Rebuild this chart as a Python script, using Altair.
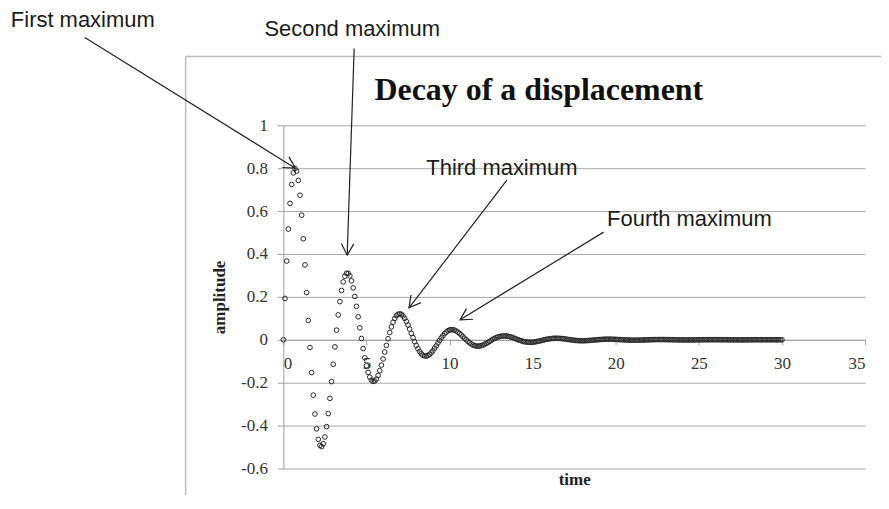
import math
import altair as alt
import pandas as pd

# ---------------- data ----------------
time_step = 0.1  # samples every 0.1 time units, from 0 to 30
amplitude = [
    # t = 0.0 .. 0.9
    0.000, 0.193, 0.367, 0.516, 0.636, 0.724, 0.778, 0.799, 0.786, 0.743,
    # t = 1.0 .. 1.9
    0.674, 0.581, 0.471, 0.349, 0.220, 0.090, -0.036, -0.153, -0.258, -0.346,
    # t = 2.0 .. 2.9
    -0.415, -0.464, -0.492, -0.498, -0.485, -0.453, -0.405, -0.344, -0.273, -0.195,
    # t = 3.0 .. 3.9
    -0.114, -0.033, 0.045, 0.116, 0.178, 0.230, 0.270, 0.296, 0.310, 0.310,
    # t = 4.0 .. 4.9
    0.298, 0.275, 0.242, 0.202, 0.156, 0.107, 0.056, 0.006, -0.041, -0.084,
    # t = 5.0 .. 5.9
    -0.121, -0.152, -0.174, -0.188, -0.194, -0.192, -0.183, -0.166, -0.144, -0.118,
    # t = 6.0 .. 6.9
    -0.089, -0.057, -0.026, 0.005, 0.034, 0.060, 0.082, 0.099, 0.112, 0.119,
    # t = 7.0 .. 7.9
    0.121, 0.119, 0.111, 0.100, 0.086, 0.069, 0.050, 0.030, 0.010, -0.009,
    # t = 8.0 .. 8.9
    -0.026, -0.042, -0.055, -0.065, -0.072, -0.075, -0.076, -0.073, -0.068, -0.060,
    # t = 9.0 .. 9.9
    -0.051, -0.039, -0.028, -0.015, -0.003, 0.009, 0.019, 0.029, 0.036, 0.042,
    # t = 10.0 .. 10.9
    0.046, 0.047, 0.047, 0.045, 0.041, 0.036, 0.030, 0.023, 0.015, 0.007,
    # t = 11.0 .. 11.9
    0.000, -0.007, -0.014, -0.019, -0.024, -0.027, -0.029, -0.030, -0.029, -0.027,
    # t = 12.0 .. 12.9
    -0.025, -0.021, -0.017, -0.013, -0.008, -0.003, 0.002, 0.006, 0.010, 0.013,
    # t = 13.0 .. 13.9
    0.015, 0.017, 0.018, 0.018, 0.018, 0.017, 0.015, 0.013, 0.010, 0.007,
    # t = 14.0 .. 14.9
    0.004, 0.001, -0.002, -0.004, -0.007, -0.009, -0.010, -0.011, -0.011, -0.012,
    # t = 15.0 .. 15.9
    -0.011, -0.010, -0.009, -0.007, -0.006, -0.004, -0.002, 0.000, 0.002, 0.003,
    # t = 16.0 .. 16.9
    0.0045, 0.0056, 0.0065, 0.0069, 0.0072, 0.0071, 0.0067, 0.0061, 0.0053, 0.0043,
    # t = 17.0 .. 17.9
    0.0032, 0.0021, 0.0009, -0.0002, -0.0013, -0.0022, -0.0031, -0.0037, -0.0041, -0.0043,
    # t = 18.0 .. 18.9
    -0.0045, -0.0044, -0.0040, -0.0036, -0.0031, -0.0025, -0.0018, -0.0010, -0.0004, 0.0003,
    # t = 19.0 .. 19.9
    0.0010, 0.0015, 0.0020, 0.0024, 0.0027, 0.0028, 0.0028, 0.0027, 0.0025, 0.0022,
    # t = 20.0 .. 20.9
    0.0019, 0.0014, 0.0010, 0.0005, 0.0001, -0.0003, -0.0007, -0.0011, -0.0013, -0.0016,
    # t = 21.0 .. 21.9
    -0.0017, -0.0017, -0.0017, -0.0016, -0.0015, -0.0013, -0.0010, -0.0008, -0.0005, -0.0002,
    # t = 22.0 .. 22.9
    0.0000, 0.0003, 0.0005, 0.0008, 0.0009, 0.0011, 0.0012, 0.0012, 0.0012, 0.0012,
    # t = 23.0 .. 23.9
    0.0009, 0.0008, 0.0006, 0.0005, 0.0003, 0.0001, -0.0001, -0.0003, -0.0004, -0.0006,
    # t = 24.0 .. 24.9
    -0.0006, -0.0007, -0.0007, -0.0007, -0.0007, -0.0006, -0.0006, -0.0005, -0.0004, -0.0002,
    # t = 25.0 .. 25.9
    -0.0001, 0.0000, 0.0001, 0.0002, 0.0003, 0.0004, 0.0004, 0.0005, 0.0005, 0.0005,
    # t = 26.0 .. 26.9
    0.0004, 0.0004, 0.0003, 0.0002, 0.0002, 0.0001, 0.0000, 0.0000, -0.0001, -0.0001,
    # t = 27.0 .. 27.9
    -0.0002, -0.0002, -0.0003, -0.0003, -0.0003, -0.0003, -0.0002, -0.0002, -0.0002, -0.0001,
    # t = 28.0 .. 28.9
    -0.0001, 0.0000, 0.0000, 0.0000, 0.0001, 0.0001, 0.0001, 0.0002, 0.0002, 0.0002,
    # t = 29.0 .. 29.9
    0.0002, 0.0001, 0.0001, 0.0001, 0.0001, 0.0001, 0.0000, 0.0000, 0.0000, 0.0000,
    # t = 30.0
    0.0000,
]
time = [round(i * time_step, 1) for i in range(len(amplitude))]

x_ticks = [0, 5, 10, 15, 20, 25, 30, 35]
y_ticks = [-0.6, -0.4, -0.2, 0, 0.2, 0.4, 0.6, 0.8, 1]
x_domain = [0, 35]
y_domain = [-0.6, 1]

chart_title = "Decay of a displacement"
x_title = "time"
y_title = "amplitude"

# annotations (data coordinates)
note_text = ["First maximum", "Second maximum", "Third maximum", "Fourth maximum"]
note_t = [-12.07, 4.14, 13.15, 24.43]
note_y = [1.493, 1.447, 0.80, 0.563]
arrow_tail_t = [-11.95, 4.26, 13.45, 19.27]
arrow_tail_y = [1.409, 1.358, 0.744, 0.502]
arrow_tip_t = [0.72, 3.84, 7.56, 10.63]
arrow_tip_y = [0.80, 0.395, 0.149, 0.093]

title_t, title_y = 15.37, 1.163
frame_left_t, frame_top_y, frame_right_t, frame_bottom_y = -5.88, 1.321, 36.5, -0.80

# ---------------- layout ----------------
W, H = 583, 344
sx = W / (x_domain[1] - x_domain[0])
sy = H / (y_domain[1] - y_domain[0])

df = pd.DataFrame({"time": time, "amplitude": amplitude})

angles = []
for t0, y0, t1, y1 in zip(arrow_tail_t, arrow_tail_y, arrow_tip_t, arrow_tip_y):
    a = math.degrees(math.atan2(-(y1 - y0) * sy, (t1 - t0) * sx)) % 360
    angles.append(a)
arrows = pd.DataFrame({"t0": arrow_tail_t, "y0": arrow_tail_y,
                       "t1": arrow_tip_t, "y1": arrow_tip_y, "angle": angles})
notes = pd.DataFrame({"t": note_t, "y": note_y, "label": note_text})

xs = alt.Scale(domain=x_domain, nice=False, zero=False)
ys = alt.Scale(domain=y_domain, nice=False, zero=False)

serif = "Liberation Serif"
sans = "Liberation Sans"

points = alt.Chart(df).mark_point(
    shape="circle", filled=False, size=22, stroke="#262626", strokeWidth=1, opacity=1
).encode(
    x=alt.X("time:Q", scale=xs, axis=alt.Axis(
        values=x_ticks, title=x_title, grid=False, offset=-(H * (0 - y_domain[0]) / (y_domain[1] - y_domain[0])),
        domainColor="#a0a0a0", tickColor="#a0a0a0", tickSize=5,
        labelFont=serif, labelFontSize=17, labelColor="#333", labelPadding=11,
        titleFont=serif, titleFontSize=17, titleFontWeight="bold", titleColor="#222",
        titleY=140, titleBaseline="middle")),
    y=alt.Y("amplitude:Q", scale=ys, axis=alt.Axis(
        values=y_ticks, title=y_title, grid=True, gridColor="#a8a8a8",
        domainColor="#a0a0a0", tickColor="#a0a0a0", tickSize=6,
        labelFont=serif, labelFontSize=17, labelColor="#333", labelPadding=10,
        labelExpr="datum.value == 0 ? '0' : toString(round(datum.value * 10) / 10)",
        titleFont=serif, titleFontSize=17, titleFontWeight="bold", titleColor="#222",
        titleAngle=270, titleX=-64, titleY=H / 2, titleBaseline="middle", titleAlign="center")),
)

frame = pd.DataFrame({"t0": [frame_left_t, frame_left_t], "y0": [frame_top_y, frame_top_y],
                      "t1": [frame_left_t, frame_right_t], "y1": [frame_bottom_y, frame_top_y]})
frame_layer = alt.Chart(frame).mark_rule(color="#bdbdbd", strokeWidth=1.5).encode(
    x=alt.X("t0:Q", scale=xs), y=alt.Y("y0:Q", scale=ys),
    x2="t1:Q", y2="y1:Q")

arrow_lines = alt.Chart(arrows).mark_rule(color="#222", strokeWidth=1.2).encode(
    x=alt.X("t0:Q", scale=xs), y=alt.Y("y0:Q", scale=ys),
    x2="t1:Q", y2="y1:Q")

arrow_heads = alt.Chart(arrows).mark_point(
    shape="M-1,-0.55L0,0L-1,0.55", filled=False, stroke="#222", strokeWidth=1.2,
    size=520, opacity=1
).encode(
    x=alt.X("t1:Q", scale=xs), y=alt.Y("y1:Q", scale=ys),
    angle=alt.Angle("angle:Q", scale=None))

note_layer = alt.Chart(notes).mark_text(
    font=sans, fontSize=22, color="#1a1a1a", align="center", baseline="middle"
).encode(x=alt.X("t:Q", scale=xs), y=alt.Y("y:Q", scale=ys), text="label:N")

title_layer = alt.Chart(pd.DataFrame({"t": [title_t], "y": [title_y], "label": [chart_title]})).mark_text(
    font=serif, fontSize=32, fontWeight="bold", color="#111", align="center", baseline="middle"
).encode(x=alt.X("t:Q", scale=xs), y=alt.Y("y:Q", scale=ys), text="label:N")

chart = alt.layer(frame_layer, points, arrow_lines, arrow_heads, note_layer, title_layer).properties(
    width=W, height=H,
    autosize=alt.AutoSizeParams(type="none"),
    padding={"left": 276, "top": 117, "right": 16, "bottom": 26},
    background="white",
).configure_view(stroke=None)

chart.save("out.html", embed_options={"renderer": "svg", "actions": False})
